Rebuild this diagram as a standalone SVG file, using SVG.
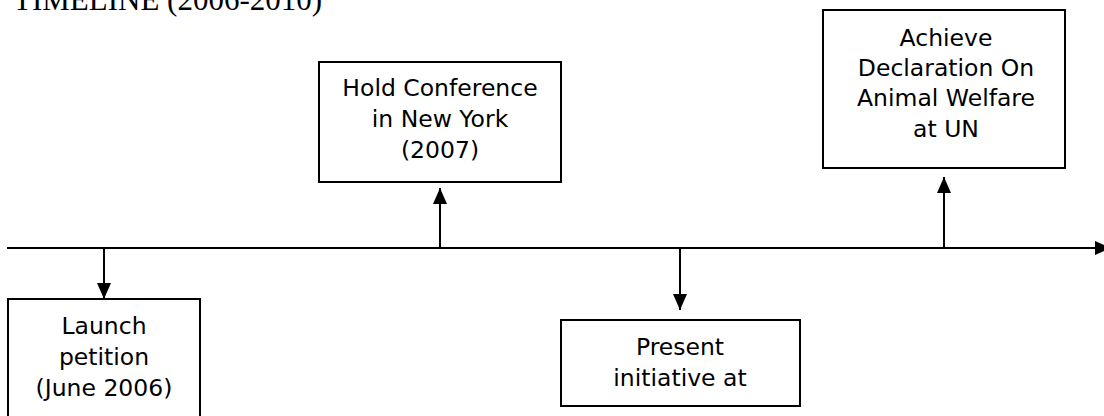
<svg xmlns="http://www.w3.org/2000/svg" width="1104" height="416" viewBox="0 0 1104 416">
<style>
.box{fill:#fff;stroke:#000;stroke-width:2}
.lbl{font-family:"DejaVu Sans",sans-serif;font-size:23.5px;fill:#000;text-anchor:middle}
.title{font-family:"Liberation Serif",serif;font-size:31px;fill:#000}
.conn{stroke:#000;stroke-width:2;fill:none}
</style>
<defs>
<marker id="ah" markerUnits="userSpaceOnUse" markerWidth="16" markerHeight="14" refX="16" refY="7" orient="auto">
<path d="M0,0 L16,7 L0,14 z" fill="#000"/>
</marker>
</defs>
<rect width="1104" height="416" fill="#fff"/>
<text class="title" x="13" y="10">TIMELINE (2006-2010)</text>
<g id="connectors">
<line class="conn" x1="7" y1="248" x2="1111" y2="248" marker-end="url(#ah)"/>
<line class="conn" x1="104" y1="249" x2="104" y2="299" marker-end="url(#ah)"/>
<line class="conn" x1="440" y1="247" x2="440" y2="188" marker-end="url(#ah)"/>
<line class="conn" x1="680" y1="249" x2="680" y2="310" marker-end="url(#ah)"/>
<line class="conn" x1="944" y1="247" x2="944" y2="177" marker-end="url(#ah)"/>
</g>
<g id="n1">
<rect class="box" x="8" y="299" width="192" height="130"/>
<text class="lbl" x="104" y="334">Launch</text>
<text class="lbl" x="104" y="365">petition</text>
<text class="lbl" x="104" y="396">(June 2006)</text>
</g>
<g id="n2">
<rect class="box" x="319" y="62" width="242" height="120"/>
<text class="lbl" x="440" y="96">Hold Conference</text>
<text class="lbl" x="440" y="127">in New York</text>
<text class="lbl" x="440" y="158">(2007)</text>
</g>
<g id="n3">
<rect class="box" x="823" y="10" width="242" height="158"/>
<text class="lbl" x="946" y="46">Achieve</text>
<text class="lbl" x="946" y="76">Declaration On</text>
<text class="lbl" x="946" y="106">Animal Welfare</text>
<text class="lbl" x="946" y="137">at UN</text>
</g>
<g id="n4">
<rect class="box" x="561" y="320" width="239" height="86"/>
<text class="lbl" x="680" y="355">Present</text>
<text class="lbl" x="680" y="386">initiative at</text>
</g>
</svg>
